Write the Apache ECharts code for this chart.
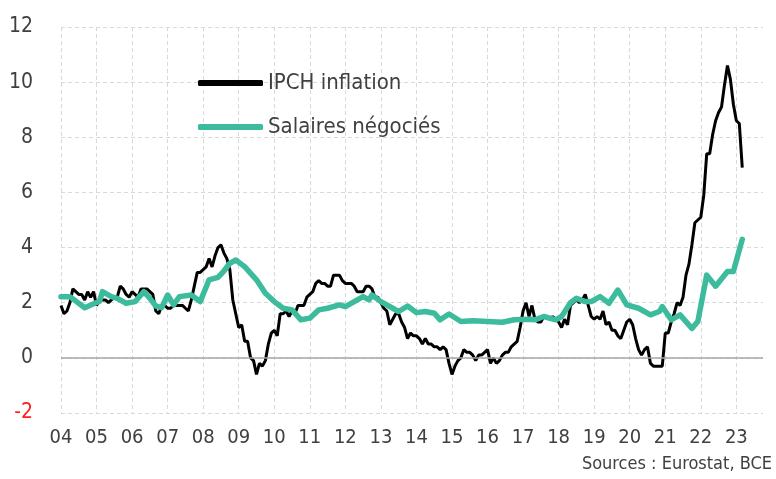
<!DOCTYPE html>
<html>
<head>
<meta charset="utf-8">
<script src="https://cdn.jsdelivr.net/npm/echarts@6/dist/echarts.min.js"></script>
<style>
html,body{margin:0;padding:0;background:#fff;}
#chart{width:776px;height:479px;}
</style>
</head>
<body>
<div id="chart"></div>
<script>
// Year tick labels (one per January)
const yearLabels = ['04','05','06','07','08','09','10','11','12','13','14','15','16','17','18','19','20','21','22','23'];
const yTicks = [-2, 0, 2, 4, 6, 8, 10, 12];

// IPCH inflation, monthly, Jan 2004 -> Mar 2023 (month index = position in array)
const ipchValues = [
1.9,1.6,1.7,2.0,2.5,2.4,2.3,2.3,2.1,2.4,2.2,2.4,
1.9,2.1,2.1,2.1,2.0,2.1,2.2,2.2,2.6,2.5,2.3,2.2,
2.4,2.3,2.2,2.5,2.5,2.5,2.4,2.3,1.7,1.6,1.9,1.9,
1.8,1.8,1.9,1.9,1.9,1.9,1.8,1.7,2.1,2.6,3.1,3.1,
3.2,3.3,3.6,3.3,3.7,4.0,4.1,3.8,3.6,3.2,2.1,1.6,
1.1,1.2,0.6,0.6,0.0,-0.1,-0.6,-0.2,-0.3,-0.1,0.5,0.9,
1.0,0.8,1.6,1.6,1.7,1.5,1.7,1.6,1.9,1.9,1.9,2.2,
2.3,2.4,2.7,2.8,2.7,2.7,2.6,2.6,3.0,3.0,3.0,2.8,
2.7,2.7,2.7,2.6,2.4,2.4,2.4,2.6,2.6,2.5,2.2,2.2,
2.0,1.8,1.7,1.2,1.4,1.6,1.6,1.3,1.1,0.7,0.9,0.8,
0.8,0.7,0.5,0.7,0.5,0.5,0.4,0.4,0.3,0.4,0.3,-0.2,
-0.6,-0.3,-0.1,0.0,0.3,0.2,0.2,0.1,-0.1,0.1,0.1,0.2,
0.3,-0.2,0.0,-0.2,-0.1,0.1,0.2,0.2,0.4,0.5,0.6,1.1,
1.7,2.0,1.5,1.9,1.4,1.3,1.3,1.5,1.5,1.4,1.5,1.4,
1.3,1.1,1.4,1.2,1.9,2.0,2.1,2.0,2.1,2.3,1.9,1.5,
1.4,1.5,1.4,1.7,1.2,1.3,1.0,1.0,0.8,0.7,1.0,1.3,
1.4,1.2,0.7,0.3,0.1,0.3,0.4,-0.2,-0.3,-0.3,-0.3,-0.3,
0.9,0.9,1.3,1.6,2.0,1.9,2.2,3.0,3.4,4.1,4.9,5.0,
5.1,5.9,7.4,7.4,8.1,8.6,8.9,9.1,9.9,10.6,10.1,9.2,
8.6,8.5,6.9
];

// Salaires négociés: points (month index since Jan 2004, value)
const wageMonths = [0,3,8,13,14,17,19,22,25,28,30,32,34,36,38,40,44,47,50,53,55,57,59,62,66,69,72,75,78,81,84,87,90,94,96,99,102,104,105,108,112,114,117,120,123,126,128,131,135,139,144,149,153,158,160,163,167,169,172,174,177,179,182,185,188,191,195,199,202,203,206,209,213,215,218,221,225,227,230];
const wageValues = [2.22,2.22,1.82,2.05,2.40,2.22,2.16,1.98,2.04,2.40,2.16,1.88,1.82,2.28,1.92,2.22,2.28,2.04,2.83,2.92,3.15,3.43,3.55,3.31,2.83,2.34,2.04,1.80,1.74,1.38,1.44,1.74,1.80,1.92,1.86,2.04,2.22,2.10,2.28,2.04,1.80,1.68,1.88,1.64,1.68,1.62,1.38,1.59,1.32,1.35,1.32,1.29,1.38,1.40,1.38,1.50,1.38,1.50,2.00,2.16,2.04,2.04,2.22,1.98,2.46,1.92,1.80,1.56,1.68,1.86,1.38,1.56,1.07,1.32,3.00,2.60,3.13,3.13,4.30];

const ipchData = ipchValues.map((v, i) => [i, v]);
const wageData = wageMonths.map((m, i) => [m, wageValues[i]]);

const FONT = "'Liberation Sans Narrow', 'DejaVu Sans Condensed', sans-serif";
const TXT = '#404040';

const chart = echarts.init(document.getElementById('chart'), null, {renderer: 'canvas'});
chart.setOption({
  animation: false,
  backgroundColor: '#ffffff',
  grid: {left: 61, right: 13, top: 27, bottom: 66, containLabel: false},
  legend: {
    orient: 'vertical',
    left: 198,
    top: 72,
    padding: 0,
    itemWidth: 65,
    itemHeight: 6,
    itemGap: 22,
    icon: 'roundRect',
    data: ['IPCH inflation', 'Salaires négociés'],
    textStyle: {fontFamily: FONT, fontSize: 22, color: TXT, padding: [0, 0, 0, 0]}
  },
  xAxis: {
    type: 'value',
    min: 0,
    max: 237,
    interval: 12,
    axisLine: {show: false},
    axisTick: {show: false},
    splitLine: {show: true, showMaxLine: false, lineStyle: {color: '#d9d9d9', width: 1, type: [4, 3]}},
    axisLabel: {
      margin: 15,
      showMaxLabel: false,
      fontFamily: FONT, fontSize: 20, color: TXT,
      formatter: v => (v % 12 === 0 && yearLabels[v / 12] !== undefined) ? yearLabels[v / 12] : ''
    }
  },
  yAxis: {
    type: 'value',
    min: yTicks[0],
    max: yTicks[yTicks.length - 1],
    interval: 2,
    axisLine: {show: false},
    axisTick: {show: false},
    splitLine: {show: true, lineStyle: {color: '#d9d9d9', width: 1, type: [4, 3]}},
    axisLabel: {
      margin: 28,
      fontFamily: FONT, fontSize: 21, color: TXT,
      formatter: v => v < 0 ? '{neg|' + v + '}' : String(v),
      rich: {neg: {color: '#ff2020', fontFamily: FONT, fontSize: 21}}
    }
  },
  series: [
    {
      name: 'IPCH inflation',
      type: 'line',
      data: ipchData,
      showSymbol: false,
      symbol: 'none',
      z: 2,
      lineStyle: {color: '#000000', width: 3},
      itemStyle: {color: '#000000'},
      markLine: {
        silent: true,
        symbol: 'none',
        label: {show: false},
        lineStyle: {color: '#a6a6a6', width: 1.5, type: 'solid'},
        data: [{yAxis: 0}]
      }
    },
    {
      name: 'Salaires négociés',
      type: 'line',
      data: wageData,
      showSymbol: false,
      symbol: 'none',
      z: 3,
      lineStyle: {color: '#3cbc9c', width: 5.5, cap: 'round', join: 'round'},
      itemStyle: {color: '#3cbc9c'}
    }
  ],
  graphic: [
    {
      type: 'text',
      right: 4,
      top: 455,
      style: {text: 'Sources : Eurostat, BCE', fontFamily: FONT, fontSize: 18, fill: TXT}
    }
  ]
});
</script>
</body>
</html>
